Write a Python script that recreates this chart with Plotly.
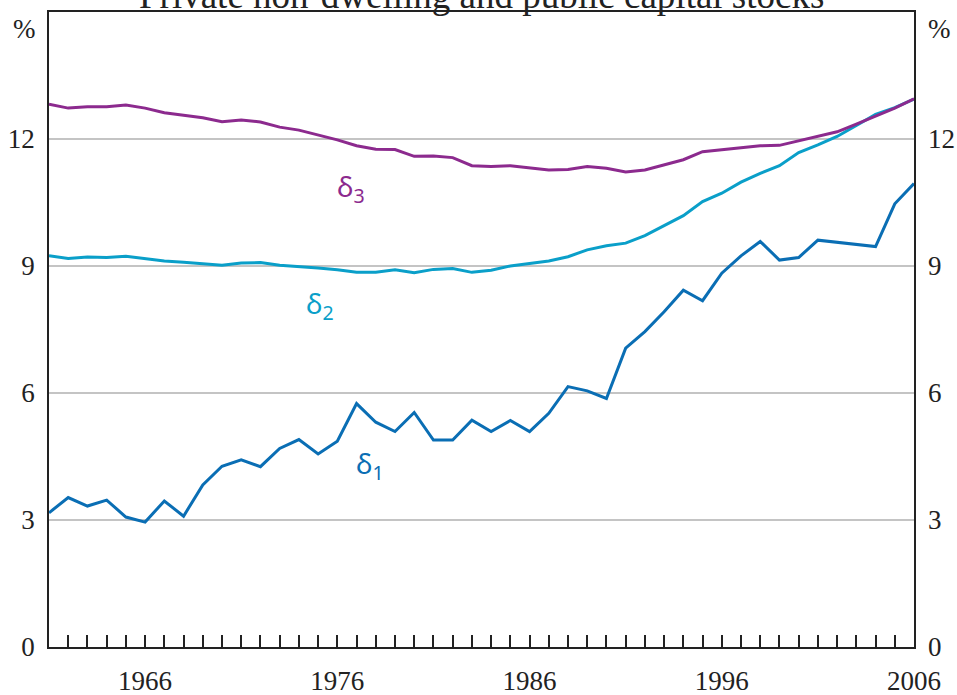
import plotly.graph_objects as go

years = list(range(1961, 2007))

delta1 = [3.17, 3.53, 3.33, 3.47, 3.07, 2.95, 3.45, 3.09, 3.83, 4.27,
          4.42, 4.26, 4.69, 4.90, 4.56, 4.86, 5.75, 5.31, 5.09, 5.54,
          4.89, 4.89, 5.36, 5.09, 5.35, 5.09, 5.52, 6.15, 6.05, 5.87,
          7.06, 7.45, 7.92, 8.43, 8.18, 8.83, 9.24, 9.58, 9.14, 9.20,
          9.61, 9.56, 9.50, 9.46, 10.47, 10.95]

delta2 = [9.24, 9.18, 9.21, 9.20, 9.23, 9.18, 9.12, 9.09, 9.06, 9.02,
          9.07, 9.08, 9.02, 8.99, 8.95, 8.91, 8.85, 8.85, 8.91, 8.84,
          8.92, 8.94, 8.85, 8.90, 9.00, 9.06, 9.12, 9.22, 9.38, 9.48,
          9.54, 9.72, 9.95, 10.19, 10.52, 10.72, 10.98, 11.19, 11.37, 11.68,
          11.86, 12.06, 12.32, 12.58, 12.74, 12.94]

delta3 = [12.82, 12.73, 12.76, 12.76, 12.80, 12.73, 12.62, 12.56, 12.50, 12.41,
          12.45, 12.40, 12.28, 12.21, 12.09, 11.98, 11.84, 11.76, 11.75, 11.59,
          11.60, 11.56, 11.37, 11.35, 11.37, 11.32, 11.27, 11.28, 11.35, 11.31,
          11.22, 11.27, 11.39, 11.51, 11.70, 11.75, 11.80, 11.84, 11.85, 11.96,
          12.07, 12.17, 12.35, 12.54, 12.73, 12.95]

x_labels = [1966, 1976, 1986, 1996, 2006]
y_ticks = [0, 3, 6, 9, 12]
title_text = "Private non-dwelling and public capital stocks"

c1 = "#0a6eb4"
c2 = "#0a9fc9"
c3 = "#8c2a8e"

serif = "Liberation Serif"
sans = "Noto Sans"

fig = go.Figure()
fig.add_trace(go.Scatter(x=years, y=delta2, mode="lines",
                         line=dict(color=c2, width=3), showlegend=False))
fig.add_trace(go.Scatter(x=years, y=delta3, mode="lines",
                         line=dict(color=c3, width=3), showlegend=False))
fig.add_trace(go.Scatter(x=years, y=delta1, mode="lines",
                         line=dict(color=c1, width=3), showlegend=False))
# invisible trace to activate right axis
fig.add_trace(go.Scatter(x=[years[0]], y=[0], yaxis="y2", mode="markers",
                         marker=dict(opacity=0), showlegend=False, hoverinfo="skip"))

ticktext = [str(y) if y in x_labels else "" for y in years]

fig.update_layout(
    width=957, height=695,
    margin=dict(l=49, r=43, t=12, b=48),
    paper_bgcolor="white", plot_bgcolor="white",
    xaxis=dict(range=[1961, 2006], tickmode="array", tickvals=years, ticktext=ticktext,
               ticks="inside", ticklen=12, tickwidth=1.5, tickcolor="#222",
               showline=True, linecolor="#222", linewidth=1.5, mirror=True,
               showgrid=False, zeroline=False, automargin=False,
               tickfont=dict(family=serif, size=27, color="#222"),
               ticklabelstandoff=9),
    yaxis=dict(range=[0, 15], tickmode="array", tickvals=y_ticks,
               showgrid=True, gridcolor="#c4c4c4", gridwidth=1.5,
               showline=True, linecolor="#222", linewidth=1.5, mirror=True,
               ticks="", zeroline=False, automargin=False,
               tickfont=dict(family=serif, size=27, color="#222"),
               ticklabelstandoff=7),
    yaxis2=dict(range=[0, 15], tickmode="array", tickvals=y_ticks,
                overlaying="y", side="right", showgrid=False, zeroline=False,
                ticks="", showline=False, automargin=False,
                tickfont=dict(family=serif, size=27, color="#222"),
                ticklabelstandoff=13),
)

annotations = [
    dict(text=title_text, xref="paper", yref="paper", x=0.5, y=1,
         xanchor="center", yanchor="middle", yshift=17, showarrow=False,
         font=dict(family=serif, size=37, color="#222")),
    dict(text="%", xref="paper", yref="y", x=0, y=14.6, xanchor="right",
         yanchor="middle", xshift=-11, showarrow=False,
         font=dict(family=serif, size=27, color="#222")),
    dict(text="%", xref="paper", yref="y", x=1, y=14.6, xanchor="left",
         yanchor="middle", xshift=12, showarrow=False,
         font=dict(family=serif, size=27, color="#222")),
    dict(text="δ<sub>3</sub>", x=1976.7, y=10.84, showarrow=False,
         font=dict(family=sans, size=28, color=c3)),
    dict(text="δ<sub>2</sub>", x=1975.1, y=8.08, showarrow=False,
         font=dict(family=sans, size=28, color=c2)),
    dict(text="δ<sub>1</sub>", x=1977.7, y=4.30, showarrow=False,
         font=dict(family=sans, size=28, color=c1)),
]
fig.update_layout(annotations=annotations)

fig.write_html("out.html")
